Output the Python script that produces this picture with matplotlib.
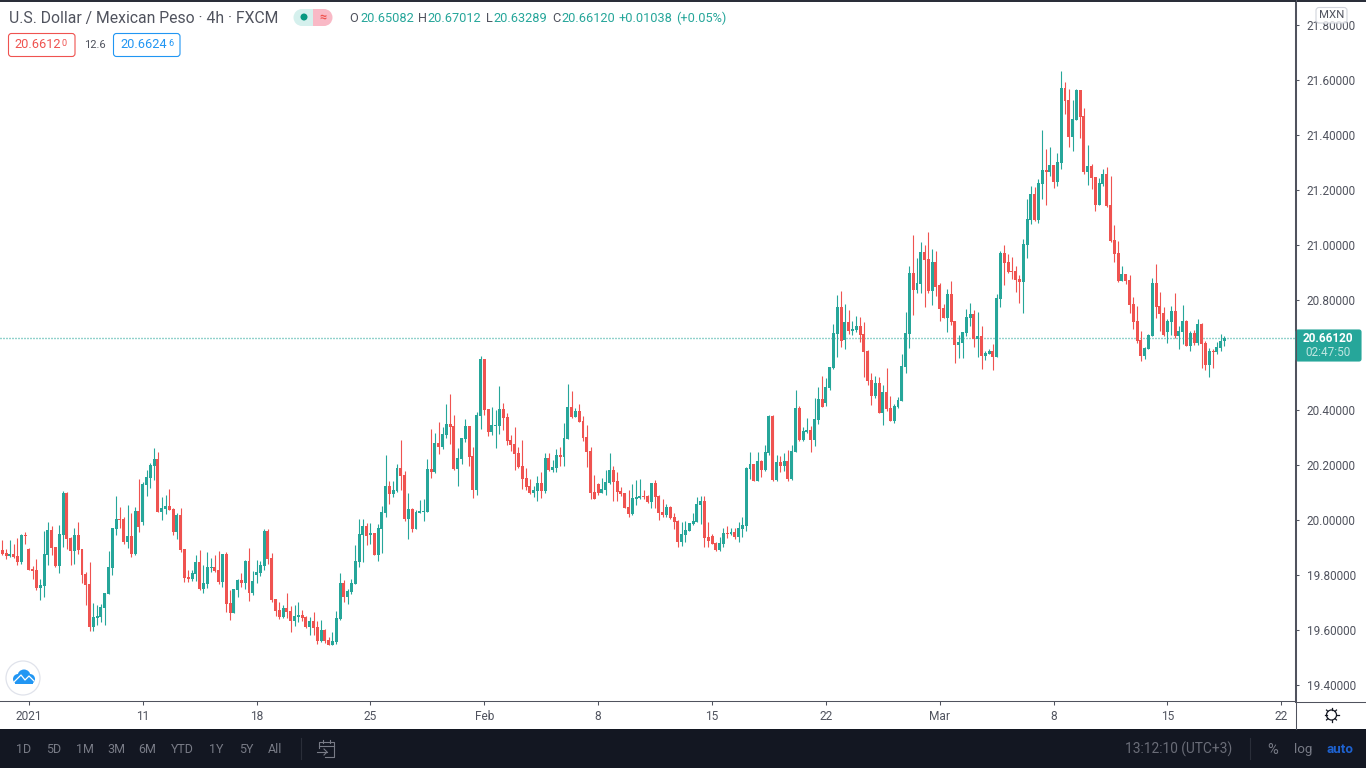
import matplotlib
matplotlib.use("Agg")
import matplotlib.pyplot as plt
from matplotlib.patches import Circle, FancyBboxPatch, Rectangle, Wedge
import numpy as np

plt.rcParams['font.family'] = ['Roboto', 'DejaVu Sans']

# 4h candles
opens = [
    19.893, 19.884, 19.873, 19.880, 19.873, 19.851, 19.949, 19.898, 19.825, 19.822,
    19.756, 19.764, 19.876, 19.967, 19.905, 19.836, 19.949, 20.102, 19.938, 19.891,
    19.949, 19.898, 19.807, 19.771, 19.615, 19.647, 19.651, 19.684, 19.734, 19.829,
    19.971, 20.007, 20.007, 19.924, 19.945, 19.880, 20.036, 19.996, 20.131, 20.156,
    20.200, 20.225, 20.033, 20.044, 20.055, 20.044, 19.960, 20.022, 19.898, 19.796,
    19.789, 19.807, 19.851, 19.753, 19.771, 19.829, 19.833, 19.822, 19.778, 19.880,
    19.702, 19.665, 19.749, 19.785, 19.774, 19.854, 19.738, 19.804, 19.811, 19.836,
    19.964, 19.865, 19.716, 19.676, 19.651, 19.684, 19.673, 19.636, 19.651, 19.658,
    19.651, 19.615, 19.636, 19.615, 19.564, 19.604, 19.567, 19.549, 19.560, 19.644,
    19.774, 19.724, 19.742, 19.771, 19.851, 19.949, 19.982, 19.949, 19.956, 19.876,
    19.971, 20.029, 20.127, 20.098, 20.109, 20.193, 20.167, 20.007, 20.044, 19.971,
    20.029, 20.033, 20.033, 20.189, 20.178, 20.284, 20.269, 20.313, 20.353, 20.345,
    20.189, 20.225, 20.298, 20.345, 20.236, 20.113, 20.382, 20.589, 20.407, 20.324,
    20.345, 20.345, 20.407, 20.378, 20.295, 20.280, 20.247, 20.200, 20.156, 20.127,
    20.102, 20.109, 20.138, 20.109, 20.229, 20.185, 20.193, 20.240, 20.233, 20.298,
    20.415, 20.378, 20.400, 20.364, 20.305, 20.255, 20.105, 20.134, 20.102, 20.113,
    20.138, 20.185, 20.145, 20.109, 20.102, 20.051, 20.025, 20.080, 20.084, 20.091,
    20.091, 20.069, 20.138, 20.091, 20.033, 20.022, 20.051, 20.015, 20.000, 19.924,
    19.949, 19.964, 19.989, 19.996, 20.058, 20.073, 19.942, 19.945, 19.920, 19.895,
    19.916, 19.956, 19.953, 19.960, 19.942, 19.971, 19.982, 20.189, 20.207, 20.145,
    20.218, 20.185, 20.247, 20.382, 20.149, 20.215, 20.200, 20.218, 20.153, 20.251,
    20.411, 20.295, 20.324, 20.331, 20.295, 20.367, 20.444, 20.429, 20.484, 20.556,
    20.680, 20.778, 20.658, 20.724, 20.691, 20.695, 20.709, 20.680, 20.618, 20.513,
    20.455, 20.502, 20.393, 20.469, 20.411, 20.364, 20.415, 20.436, 20.560, 20.680,
    20.902, 20.840, 20.862, 20.978, 20.953, 20.836, 20.942, 20.858, 20.775, 20.738,
    20.825, 20.727, 20.640, 20.647, 20.684, 20.738, 20.753, 20.662, 20.673, 20.600,
    20.607, 20.618, 20.596, 20.807, 20.975, 20.942, 20.909, 20.909, 20.880, 20.869,
    21.004, 21.095, 21.189, 21.095, 21.225, 21.276, 21.269, 21.295, 21.233, 21.302,
    21.575, 21.531, 21.396, 21.458, 21.567, 21.473, 21.269, 21.291, 21.251, 21.149,
    21.225, 21.262, 21.149, 21.022, 20.975, 20.873, 20.898, 20.876, 20.789, 20.727,
    20.658, 20.600, 20.625, 20.673, 20.865, 20.782, 20.756, 20.687, 20.724, 20.764,
    20.673, 20.687, 20.727, 20.636, 20.684, 20.647, 20.716, 20.647, 20.567, 20.618,
    20.615, 20.629, 20.65082,
]
highs = [
    19.931, 19.898, 19.931, 19.916, 19.938, 19.953, 19.960, 19.902, 19.836, 19.862,
    19.789, 19.964, 19.996, 19.982, 19.905, 19.985, 20.109, 20.105, 19.942, 19.974,
    19.996, 19.898, 19.815, 19.851, 19.702, 19.695, 19.698, 19.738, 19.891, 19.974,
    20.091, 20.051, 20.015, 20.058, 20.029, 20.051, 20.153, 20.142, 20.185, 20.211,
    20.265, 20.251, 20.087, 20.095, 20.116, 20.047, 20.029, 20.047, 19.898, 19.822,
    19.822, 19.876, 19.894, 19.840, 19.887, 19.865, 19.876, 19.891, 19.880, 19.887,
    19.749, 19.753, 19.789, 19.811, 19.858, 19.902, 19.818, 19.858, 19.854, 19.971,
    19.971, 19.884, 19.716, 19.705, 19.695, 19.738, 19.691, 19.695, 19.705, 19.676,
    19.655, 19.651, 19.669, 19.636, 19.640, 19.607, 19.578, 19.596, 19.673, 19.811,
    19.785, 19.753, 19.789, 19.913, 20.007, 20.007, 19.993, 19.993, 19.956, 19.989,
    20.055, 20.240, 20.145, 20.145, 20.207, 20.295, 20.182, 20.102, 20.047, 20.040,
    20.076, 20.080, 20.225, 20.335, 20.320, 20.360, 20.342, 20.425, 20.462, 20.385,
    20.265, 20.302, 20.371, 20.345, 20.269, 20.396, 20.600, 20.589, 20.407, 20.415,
    20.404, 20.491, 20.429, 20.393, 20.313, 20.342, 20.269, 20.295, 20.193, 20.153,
    20.127, 20.164, 20.178, 20.247, 20.247, 20.222, 20.262, 20.269, 20.356, 20.498,
    20.473, 20.411, 20.425, 20.382, 20.349, 20.269, 20.167, 20.138, 20.156, 20.185,
    20.247, 20.200, 20.178, 20.124, 20.102, 20.113, 20.134, 20.149, 20.153, 20.113,
    20.095, 20.138, 20.149, 20.095, 20.080, 20.062, 20.055, 20.029, 20.004, 19.996,
    20.000, 19.993, 20.029, 20.087, 20.091, 20.091, 19.996, 19.953, 19.924, 19.942,
    19.975, 19.982, 19.975, 19.975, 19.996, 20.015, 20.196, 20.251, 20.207, 20.251,
    20.222, 20.276, 20.385, 20.385, 20.240, 20.236, 20.247, 20.258, 20.276, 20.476,
    20.418, 20.342, 20.375, 20.345, 20.447, 20.487, 20.527, 20.520, 20.560, 20.716,
    20.822, 20.836, 20.789, 20.767, 20.727, 20.745, 20.742, 20.724, 20.622, 20.538,
    20.527, 20.524, 20.495, 20.556, 20.455, 20.425, 20.451, 20.607, 20.760, 20.927,
    21.040, 20.956, 21.015, 21.004, 21.051, 20.989, 20.982, 20.865, 20.789, 20.844,
    20.873, 20.727, 20.676, 20.687, 20.771, 20.793, 20.767, 20.760, 20.709, 20.618,
    20.625, 20.644, 20.825, 20.982, 21.004, 20.971, 20.960, 20.927, 20.895, 21.025,
    21.171, 21.218, 21.215, 21.244, 21.422, 21.353, 21.360, 21.295, 21.338, 21.636,
    21.596, 21.571, 21.531, 21.571, 21.567, 21.502, 21.367, 21.298, 21.251, 21.247,
    21.280, 21.287, 21.255, 21.076, 21.018, 20.927, 20.898, 20.895, 20.815, 20.782,
    20.691, 20.633, 20.680, 20.884, 20.935, 20.833, 20.778, 20.735, 20.782, 20.829,
    20.709, 20.785, 20.731, 20.691, 20.695, 20.735, 20.720, 20.655, 20.629, 20.625,
    20.651, 20.680, 20.67012,
]
lows = [
    19.876, 19.862, 19.868, 19.865, 19.840, 19.844, 19.916, 19.822, 19.789, 19.749,
    19.713, 19.724, 19.840, 19.876, 19.833, 19.811, 19.905, 19.898, 19.840, 19.844,
    19.880, 19.774, 19.695, 19.600, 19.600, 19.622, 19.633, 19.622, 19.734, 19.804,
    19.949, 19.974, 19.916, 19.902, 19.869, 19.876, 19.960, 19.985, 20.091, 20.120,
    20.149, 20.033, 20.004, 20.025, 20.040, 19.949, 19.934, 19.887, 19.778, 19.778,
    19.782, 19.782, 19.749, 19.738, 19.756, 19.815, 19.815, 19.771, 19.760, 19.669,
    19.640, 19.665, 19.724, 19.760, 19.753, 19.709, 19.731, 19.774, 19.800, 19.822,
    19.844, 19.705, 19.655, 19.644, 19.647, 19.647, 19.596, 19.618, 19.633, 19.636,
    19.611, 19.585, 19.585, 19.553, 19.560, 19.556, 19.549, 19.549, 19.553, 19.640,
    19.705, 19.698, 19.735, 19.771, 19.833, 19.851, 19.913, 19.916, 19.876, 19.855,
    19.884, 20.015, 20.062, 20.087, 20.105, 20.113, 20.000, 19.935, 19.960, 19.971,
    20.029, 20.000, 20.033, 20.156, 20.175, 20.244, 20.262, 20.302, 20.280, 20.185,
    20.127, 20.207, 20.287, 20.200, 20.084, 20.095, 20.335, 20.385, 20.309, 20.313,
    20.265, 20.316, 20.331, 20.276, 20.255, 20.185, 20.193, 20.116, 20.113, 20.098,
    20.087, 20.073, 20.084, 20.102, 20.182, 20.178, 20.178, 20.200, 20.200, 20.298,
    20.375, 20.378, 20.360, 20.291, 20.196, 20.080, 20.080, 20.095, 20.102, 20.095,
    20.134, 20.073, 20.073, 20.091, 20.047, 20.015, 20.022, 20.058, 20.080, 20.080,
    20.065, 20.047, 20.047, 20.004, 20.015, 20.015, 20.007, 19.971, 19.905, 19.909,
    19.924, 19.964, 19.985, 19.996, 19.989, 19.905, 19.905, 19.916, 19.891, 19.891,
    19.905, 19.938, 19.949, 19.935, 19.924, 19.942, 19.964, 20.153, 20.145, 20.145,
    20.160, 20.182, 20.240, 20.145, 20.145, 20.178, 20.182, 20.145, 20.149, 20.251,
    20.291, 20.291, 20.320, 20.251, 20.273, 20.353, 20.415, 20.418, 20.476, 20.553,
    20.596, 20.633, 20.625, 20.680, 20.676, 20.687, 20.651, 20.524, 20.495, 20.422,
    20.447, 20.393, 20.349, 20.400, 20.364, 20.356, 20.411, 20.436, 20.538, 20.629,
    20.749, 20.829, 20.829, 20.778, 20.829, 20.785, 20.818, 20.727, 20.738, 20.687,
    20.713, 20.575, 20.593, 20.593, 20.673, 20.709, 20.633, 20.596, 20.553, 20.585,
    20.607, 20.549, 20.596, 20.778, 20.858, 20.902, 20.880, 20.833, 20.793, 20.756,
    20.956, 21.080, 21.091, 21.084, 21.171, 21.149, 21.255, 21.211, 21.218, 21.280,
    21.480, 21.360, 21.345, 21.458, 21.393, 21.262, 21.222, 21.207, 21.127, 21.149,
    21.218, 21.142, 21.015, 20.942, 20.869, 20.873, 20.862, 20.756, 20.698, 20.647,
    20.582, 20.589, 20.625, 20.673, 20.738, 20.691, 20.673, 20.647, 20.676, 20.665,
    20.625, 20.644, 20.636, 20.618, 20.640, 20.640, 20.556, 20.549, 20.524, 20.556,
    20.607, 20.618, 20.63289,
]
closes = [
    19.879, 19.873, 19.880, 19.869, 19.851, 19.949, 19.945, 19.822, 19.818, 19.756,
    19.767, 19.880, 19.967, 19.902, 19.836, 19.953, 20.102, 19.934, 19.891, 19.949,
    19.894, 19.804, 19.767, 19.615, 19.651, 19.655, 19.687, 19.738, 19.833, 19.974,
    20.007, 20.004, 19.924, 19.945, 19.880, 20.036, 19.978, 20.134, 20.160, 20.204,
    20.225, 20.033, 20.047, 20.055, 20.040, 19.960, 20.022, 19.894, 19.793, 19.789,
    19.811, 19.851, 19.753, 19.774, 19.833, 19.833, 19.818, 19.778, 19.880, 19.698,
    19.665, 19.753, 19.785, 19.774, 19.854, 19.738, 19.782, 19.815, 19.840, 19.964,
    19.862, 19.713, 19.673, 19.651, 19.684, 19.669, 19.636, 19.655, 19.658, 19.647,
    19.615, 19.636, 19.611, 19.564, 19.604, 19.564, 19.549, 19.564, 19.647, 19.774,
    19.724, 19.745, 19.775, 19.855, 19.953, 19.982, 19.945, 19.956, 19.876, 19.975,
    20.033, 20.127, 20.098, 20.113, 20.193, 20.164, 20.007, 20.044, 19.971, 20.033,
    20.036, 20.036, 20.189, 20.178, 20.284, 20.269, 20.316, 20.353, 20.342, 20.189,
    20.229, 20.302, 20.345, 20.233, 20.113, 20.385, 20.589, 20.404, 20.324, 20.349,
    20.349, 20.407, 20.375, 20.291, 20.276, 20.244, 20.196, 20.153, 20.124, 20.102,
    20.113, 20.138, 20.109, 20.229, 20.185, 20.196, 20.240, 20.233, 20.302, 20.415,
    20.378, 20.400, 20.360, 20.302, 20.251, 20.102, 20.080, 20.102, 20.116, 20.142,
    20.185, 20.142, 20.105, 20.098, 20.047, 20.025, 20.084, 20.087, 20.091, 20.087,
    20.069, 20.138, 20.087, 20.029, 20.022, 20.051, 20.011, 19.996, 19.924, 19.953,
    19.967, 19.993, 20.000, 20.062, 20.073, 19.938, 19.927, 19.916, 19.895, 19.920,
    19.956, 19.953, 19.960, 19.942, 19.975, 19.985, 20.193, 20.207, 20.145, 20.218,
    20.185, 20.251, 20.382, 20.149, 20.215, 20.200, 20.218, 20.153, 20.255, 20.411,
    20.295, 20.327, 20.331, 20.295, 20.371, 20.444, 20.415, 20.487, 20.560, 20.684,
    20.778, 20.655, 20.724, 20.691, 20.698, 20.709, 20.676, 20.615, 20.509, 20.455,
    20.502, 20.393, 20.469, 20.407, 20.364, 20.418, 20.440, 20.564, 20.684, 20.902,
    20.840, 20.865, 20.978, 20.949, 20.836, 20.942, 20.851, 20.771, 20.738, 20.825,
    20.724, 20.640, 20.651, 20.687, 20.742, 20.753, 20.662, 20.673, 20.600, 20.611,
    20.618, 20.596, 20.811, 20.975, 20.938, 20.905, 20.905, 20.876, 20.869, 21.007,
    21.098, 21.189, 21.095, 21.229, 21.276, 21.269, 21.295, 21.233, 21.305, 21.575,
    21.527, 21.396, 21.462, 21.567, 21.469, 21.269, 21.291, 21.247, 21.149, 21.229,
    21.262, 21.145, 21.018, 20.971, 20.873, 20.898, 20.873, 20.785, 20.724, 20.655,
    20.600, 20.629, 20.676, 20.865, 20.778, 20.753, 20.676, 20.727, 20.764, 20.673,
    20.691, 20.727, 20.636, 20.684, 20.647, 20.716, 20.644, 20.567, 20.618, 20.615,
    20.633, 20.655, 20.6612,
]

price_ticks = [19.4, 19.6, 19.8, 20.0, 20.2, 20.4, 20.6, 20.8, 21.0, 21.2, 21.4, 21.6, 21.8]
date_ticks = [7, 37, 67, 97, 127, 157, 187, 217, 247, 277, 307, 337]
date_labels = ['2021', '11', '18', '25', 'Feb', '8', '15', '22', 'Mar', '8', '15', '22']
last_price = 20.6612
range_buttons = ['1D', '5D', '1M', '3M', '6M', 'YTD', '1Y', '5Y', 'All']
range_x = [24, 54, 85, 116, 147, 182, 216, 246, 275]

UP = '#26a69a'
DOWN = '#ef5350'
TEXT = '#50535e'
BAR_BG = '#131722'
W, H = 1366, 768

fig = plt.figure(figsize=(W / 100, H / 100), dpi=100, facecolor='white')

# price pane, 0-1295 px wide and 0-701 px high
ax = fig.add_axes([0, 1 - 701 / H, 1295 / W, 701 / H])
ax.set_xlim(-0.606, 340.6)
ax.set_ylim(19.3429, 21.892)

# the candles were read about 0.7 px high, the last one comes from the header
read_bias = 0.0025
o = np.array(opens)
c = np.array(closes)
hi = np.array(highs)
lo = np.array(lows)
for arr in (o, c, hi, lo):
    arr[:-1] -= read_bias

x = np.arange(len(o))
colors = [UP if a >= b else DOWN for a, b in zip(c, o)]
ax.axhline(last_price, color=UP, lw=1, ls=(0, (0.72, 1.44)), zorder=1)
wicks = ax.vlines(x, lo, hi, colors=colors, lw=0.8, zorder=2)
wicks.set_snap(True)
ax.bar(x, np.maximum(np.abs(c - o), 0.0036), bottom=np.minimum(o, c), width=0.78,
       color=colors, lw=0, zorder=3)

for side in ['top', 'left']:
    ax.spines[side].set_visible(False)
for side in ['right', 'bottom']:
    ax.spines[side].set_color(TEXT)
    ax.spines[side].set_linewidth(0.75)
ax.yaxis.tick_right()
ax.set_yticks(price_ticks)
ax.set_yticklabels(['%.5f' % p for p in price_ticks])
ax.set_xticks(date_ticks)
ax.set_xticklabels(date_labels)
ax.tick_params(axis='y', length=3, width=0.75, color=TEXT, labelcolor=TEXT, labelsize=8.5, pad=5.5)
ax.tick_params(axis='x', length=3, width=0.75, color=TEXT, labelcolor=TEXT, labelsize=8.6, pad=3.8)

# everything around the pane is placed in pixels
ui = fig.add_axes([0, 0, 1, 1])
ui.set_xlim(0, W)
ui.set_ylim(H, 0)
ui.axis('off')
ui.patch.set_alpha(0)


def label(px, py, s, color=TEXT, size=10, ha='left', **kw):
    ui.text(px, py, s, color=color, fontsize=size, ha=ha, va='center', **kw)


def box(x0, y0, x1, y1, face, edge, r=3, **kw):
    ui.add_patch(FancyBboxPatch((x0 + r, y0 + r), x1 - x0 - 2 * r, y1 - y0 - 2 * r,
                                boxstyle='round,pad=%d,rounding_size=%d' % (r, r),
                                fc=face, ec=edge, lw=0.8, **kw))


ui.add_patch(Rectangle((0, 0), W, 2, fc='#2a2e39', ec='none'))
ui.add_patch(Rectangle((0, 729), W, 39, fc=BAR_BG, ec='none'))
ui.plot([1295, W], [701.5, 701.5], color=TEXT, lw=0.75)
ui.plot([1295.5, 1295.5], [0, 729], color=TEXT, lw=0.75)

# header
label(9, 18, 'U.S. Dollar / Mexican Peso · 4h · FXCM', size=11.3)
ui.add_patch(Wedge((302, 17.5), 8.5, 90, 270, fc='#d5f0ed', ec='none'))
ui.add_patch(Rectangle((302, 9), 11, 17, fc='#d5f0ed', ec='none'))
ui.add_patch(Wedge((324, 17.5), 8.5, 270, 90, fc='#f9b9c6', ec='none'))
ui.add_patch(Rectangle((313, 9), 11, 17, fc='#f9b9c6', ec='none'))
ui.add_patch(Circle((304, 17), 3.5, fc='#089981', ec='none'))
label(323, 17, '≈', color=DOWN, size=9, ha='center', weight='bold')
for px, s in [(349, 'O'), (418, 'H'), (486, 'L'), (552, 'C')]:
    label(px, 18.5, s, size=9.2)
for px, s in [(360, '20.65082'), (427, '20.67012'), (493, '20.63289'), (561, '20.66120'),
              (619, '+0.01038'), (676, '(+0.05%)')]:
    label(px, 18.5, s, color=UP, size=9.2)

box(8.5, 33.5, 75, 56.5, 'white', DOWN)
label(14, 45, '20.6612', color=DOWN, size=9.2)
label(62, 43, '0', color=DOWN, size=6.5)
label(84, 45, '12.6', size=8)
box(113.5, 33.5, 180, 56.5, 'white', '#2196f3')
label(120, 45, '20.6624', color='#2196f3', size=9.2)
label(168, 43, '6', color='#2196f3', size=6.5)

# right scale extras
box(1316, 7.5, 1347, 23, (1, 1, 1, 0.8), '#d1d4dc')
label(1331.5, 15.5, 'MXN', size=8.2, ha='center')
box(1296, 330, 1361, 361, UP, UP, r=2)
label(1328, 338.5, '20.66120', color='white', size=8.5, ha='center', weight='bold')
label(1328, 353, '02:47:50', color='#bfe6e1', size=8.5, ha='center')

# logo button
ui.add_patch(Circle((23, 678), 17, fc='white', ec='#e0e3eb', lw=0.9))
for cx, cy, r in [(18, 679, 5), (24, 676, 6.5), (30, 679, 5)]:
    ui.add_patch(Circle((cx, cy), r, fc='#2196f3', ec='none'))
ui.add_patch(Rectangle((15, 679), 18, 5, fc='#2196f3', ec='none'))
ui.plot([14, 21, 25, 29, 34], [682, 675, 680, 676, 681], color='white', lw=0.9)

# settings gear
ui.add_patch(Circle((1331.5, 715), 5, fc='white', ec='#131722', lw=0.9))
for a in np.arange(0, 2 * np.pi, np.pi / 4):
    ui.plot([1331.5 + 5 * np.cos(a), 1331.5 + 7 * np.cos(a)],
            [715 + 5 * np.sin(a), 715 + 7 * np.sin(a)], color='#131722', lw=0.9)

# bottom bar
for px, s in zip(range_x, range_buttons):
    label(px, 749.5, s, color='#787b86', size=9, ha='center')
ui.plot([300.5, 300.5], [738, 759], color='#2a2e39', lw=0.8)
ui.plot([1249.5, 1249.5], [738, 759], color='#2a2e39', lw=0.8)
ui.plot([319, 319, 334, 334, 325], [748, 742, 742, 757, 757], color='#787b86', lw=0.8)
ui.plot([319, 334], [746, 746], color='#787b86', lw=0.8)
ui.plot([323, 323], [740, 743], color='#787b86', lw=0.8)
ui.plot([330, 330], [740, 743], color='#787b86', lw=0.8)
ui.plot([317, 327], [752, 752], color='#787b86', lw=0.8)
ui.plot([324, 327, 324], [749, 752, 755], color='#787b86', lw=0.8)
label(1125, 749.5, '13:12:10 (UTC+3)', color='#6a6d78', size=9.9)
label(1273, 749.5, '%', color='#787b86', size=10.5, ha='center')
label(1303, 749.5, 'log', color='#787b86', size=9.6, ha='center')
label(1340, 749.5, 'auto', color='#1e62d0', size=9.6, ha='center', weight='bold')

fig.savefig('out.png', dpi=100)
